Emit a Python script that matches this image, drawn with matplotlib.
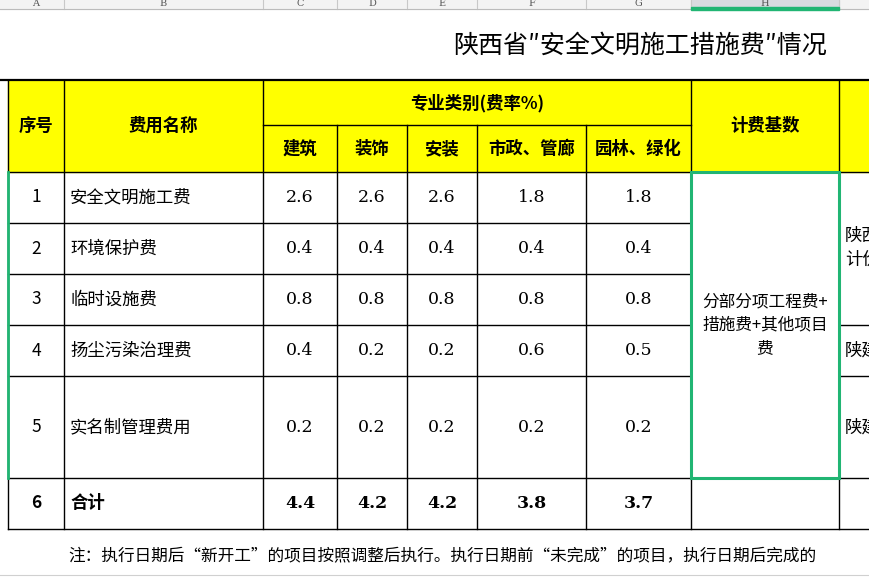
import matplotlib
matplotlib.use("Agg")
import matplotlib.pyplot as plt
from matplotlib.patches import Rectangle

plt.rcParams["font.family"] = ["Noto Sans CJK SC", "DejaVu Sans"]

title = "陕西省\u2033安全文明施工措施费\u2033情况"
col_letters = ["A", "B", "C", "D", "E", "F", "G", "H"]
categories = ["建筑", "装饰", "安装", "市政、管廊", "园林、绿化"]
seq = ["1", "2", "3", "4", "5"]
names = ["安全文明施工费", "环境保护费", "临时设施费", "扬尘污染治理费", "实名制管理费用"]
rate_jianzhu = [2.6, 0.4, 0.8, 0.4, 0.2]
rate_zhuangshi = [2.6, 0.4, 0.8, 0.2, 0.2]
rate_anzhuang = [2.6, 0.4, 0.8, 0.2, 0.2]
rate_shizheng = [1.8, 0.4, 0.8, 0.6, 0.2]
rate_yuanlin = [1.8, 0.4, 0.8, 0.5, 0.2]
totals = [4.4, 4.2, 4.2, 3.8, 3.7]
basis = "分部分项工程费+\n措施费+其他项目\n费"
note = "注：执行日期后\u201c新开工\u201d的项目按照调整后执行。执行日期前\u201c未完成\u201d的项目，执行日期后完成的"

fig = plt.figure(figsize=(8.69, 5.85), dpi=100)
ax = fig.add_axes([0, 0, 1, 1])
ax.set_xlim(0, 869); ax.set_ylim(585, 0); ax.axis("off")

xs = [8, 64, 263, 337, 407, 477, 586, 691, 839, 869]
rows = [80, 125, 172, 223, 274, 325, 376, 478, 529]

# column header strip
ax.add_patch(Rectangle((0, 0), 869, 9, color="#f3f3f3", zorder=0))
ax.add_patch(Rectangle((691, 0), 148, 7, color="#d9dbe0", zorder=1))
ax.add_patch(Rectangle((691, 7), 148, 2.5, color="#21b573", zorder=3))
for x in xs[1:-1]:
    ax.plot([x, x], [0, 9], color="#c8c8c8", lw=0.8)
ax.plot([0, 869], [9, 9], color="#bbbbbb", lw=0.8)
for i, L in enumerate(col_letters):
    ax.text((xs[i] + xs[i + 1]) / 2 if i else 36, 3, L, ha="center", va="center",
            fontsize=7, color="#555555", family="DejaVu Serif")

ax.text(453, 46, title, ha="left", va="center", fontsize=18, clip_on=True)

# yellow header
ax.add_patch(Rectangle((8, 80), 861, 92, color="#ffff00", zorder=0))

lw = 1.0
ax.plot([0, 869], [80, 80], color="black", lw=1.6)
for y in rows[2:]:
    ax.plot([8, 869], [y, y], color="black", lw=lw)
ax.plot([263, 691], [125, 125], color="black", lw=lw)
for x in xs[:3] + xs[7:9]:
    ax.plot([x, x], [80, 529], color="black", lw=lw)
for x in xs[3:7]:
    ax.plot([x, x], [125, 529], color="black", lw=lw)
for y in rows[3:7]:
    ax.plot([693, 837], [y, y], color="white", lw=2.5, zorder=2)
ax.plot([841, 869], [223, 223], color="white", lw=2.5, zorder=2)
ax.plot([841, 869], [274, 274], color="white", lw=2.5, zorder=2)
ax.plot([0, 869], [575, 575], color="#d0d0d0", lw=0.8)

hs = dict(ha="center", va="center", fontsize=12.5, fontweight="bold")
ax.text(36, 126, "序号", **hs)
ax.text(163, 126, "费用名称", **hs)
ax.text(477, 103, "专业类别(费率%)", **hs)
ax.text(765, 126, "计费基数", **hs)
for i, c in enumerate(categories):
    ax.text((xs[i + 2] + xs[i + 3]) / 2, 149, c, **hs)

ds = dict(va="center", fontsize=12.5)
series = [rate_jianzhu, rate_zhuangshi, rate_anzhuang, rate_shizheng, rate_yuanlin]
for r in range(5):
    yc = (rows[r + 2] + rows[r + 3]) / 2
    ax.text(36, yc, seq[r], ha="center", **ds)
    ax.text(70, yc, names[r], ha="left", **ds)
    for j, s in enumerate(series):
        ax.text((xs[j + 2] + xs[j + 3]) / 2, yc, f"{s[r]:.1f}", ha="center",
                family="DejaVu Serif", **ds)
yc = (478 + 529) / 2
bs = dict(va="center", fontsize=12.5, fontweight="bold")
ax.text(36, yc, "6", ha="center", **bs)
ax.text(70, yc, "合计", ha="left", **bs)
for j, t in enumerate(totals):
    ax.text((xs[j + 2] + xs[j + 3]) / 2, yc, f"{t:.1f}", ha="center",
            family="DejaVu Serif", **bs)

ax.text(765, 325, basis, ha="center", va="center", fontsize=12, linespacing=1.5)
ax.add_patch(Rectangle((691, 172), 148, 306, fill=False, ec="#21b573", lw=2.2, zorder=5))
ax.plot([8, 8], [172, 478], color="#21b573", lw=2, zorder=5)

ax.text(845, 248, "陕西\n计价", ha="left", va="center", fontsize=12.5, linespacing=1.4, clip_on=True)
ax.text(845, 351, "陕建", ha="left", va="center", fontsize=12.5, clip_on=True)
ax.text(845, 428, "陕建", ha="left", va="center", fontsize=12.5, clip_on=True)
ax.text(68, 556, note, ha="left", va="center", fontsize=12)

fig.savefig("out.png", dpi=100)
